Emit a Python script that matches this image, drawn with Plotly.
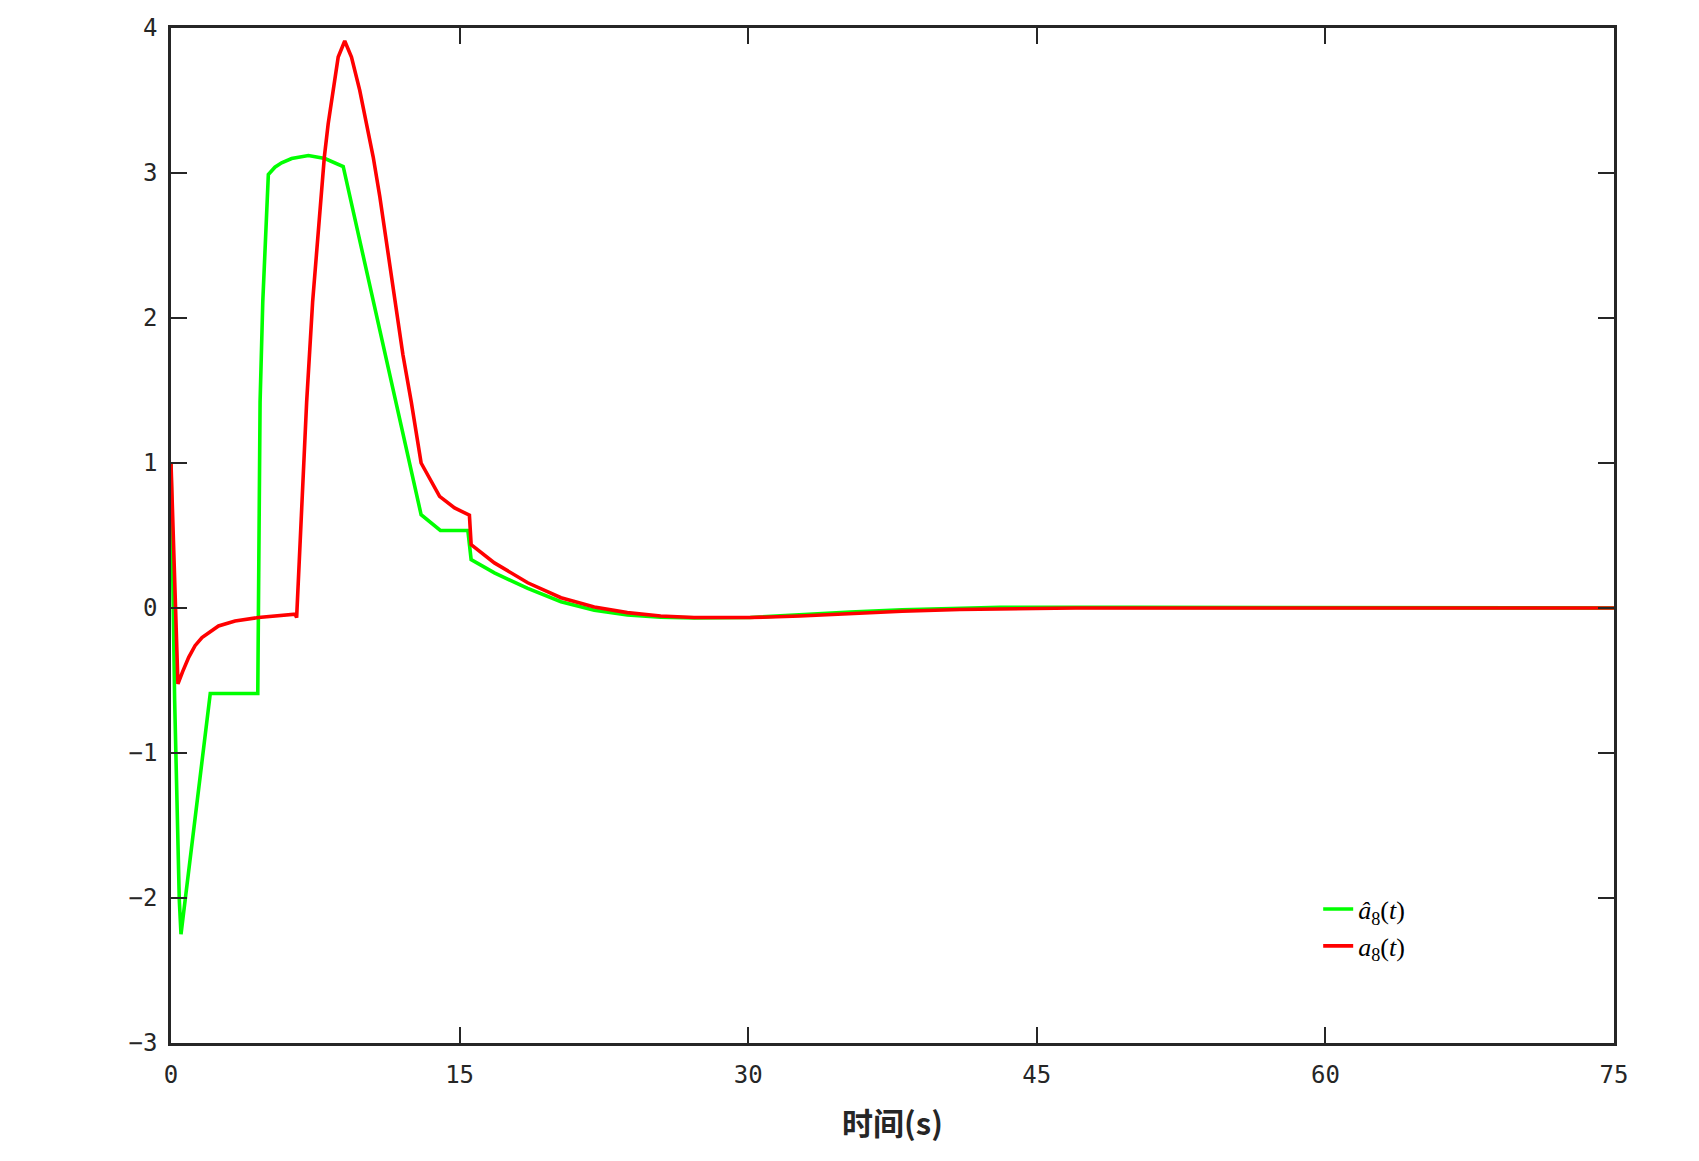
import plotly.graph_objects as go

# estimated a8 hat (green) and a8 (red)
t_hat = [0, 0.19, 0.43, 0.52, 2.04, 4.51, 4.63, 4.77, 5.06, 5.4, 5.75, 6.27,
         7.14, 8.0, 8.95, 13.0, 14.0, 15.43, 15.6, 16.81, 18.54, 20.27,
         22.0, 23.72, 25.45, 27.2, 30.1, 32.7, 35.3, 38.0, 41.0, 43.1, 50.0,
         60.0, 75.0]
a_hat = [1.0, -0.64, -2.01, -2.25, -0.59, -0.59, 1.42, 2.11, 2.99, 3.04, 3.07,
         3.10, 3.12, 3.10, 3.045, 0.643, 0.535, 0.535, 0.334, 0.242, 0.135,
         0.043, -0.016, -0.048, -0.064, -0.068, -0.066, -0.045, -0.028,
         -0.012, 0.0, 0.005, 0.004, 0.002, 0.0]

t_true = [0, 0.36, 0.6, 0.92, 1.25, 1.61, 2.47, 3.33, 4.54, 6.45, 6.53, 6.79,
          7.05, 7.36, 7.79, 7.97, 8.17, 8.43, 8.69, 9.03, 9.38, 9.81, 10.16,
          10.51, 10.85, 11.25, 11.63, 12.05, 12.49, 13.0, 13.96, 14.74,
          15.51, 15.6, 16.81, 18.54, 20.27, 22.0, 23.72, 25.45, 27.18, 30.1,
          32.7, 35.3, 38.0, 41.0, 44.0, 47.0, 60.0, 75.0]
a_true = [1.0, -0.524, -0.44, -0.34, -0.26, -0.204, -0.124, -0.089, -0.066,
          -0.043, -0.066, 0.734, 1.42, 2.11, 2.84, 3.11, 3.34, 3.57, 3.80, 3.91,
          3.80, 3.57, 3.34, 3.11, 2.84, 2.48, 2.11, 1.75, 1.42, 1.0, 0.77,
          0.69, 0.64, 0.437, 0.311, 0.174, 0.071, 0.007, -0.032, -0.055,
          -0.066, -0.066, -0.055, -0.038, -0.022, -0.01, -0.003, 0.0, 0.0, 0.0]

x_ticks = [0, 15, 30, 45, 60, 75]
y_ticks = [-3, -2, -1, 0, 1, 2, 3, 4]

axis_color = "#262626"
tick_font = dict(family="DejaVu Sans Mono", size=24, color=axis_color)

fig = go.Figure()
fig.add_trace(go.Scatter(
    x=t_hat, y=a_hat, mode="lines",
    line=dict(color="#00ff00", width=3.6),
    name="<i>â</i><sub>8</sub>(<i>t</i>)",
))
fig.add_trace(go.Scatter(
    x=t_true, y=a_true, mode="lines",
    line=dict(color="#ff0000", width=3.6),
    name="<i>a</i><sub>8</sub>(<i>t</i>)",
))

fig.update_layout(
    width=1699,
    height=1161,
    margin=dict(l=163, r=93, t=20, b=126),
    paper_bgcolor="white",
    plot_bgcolor="white",
    showlegend=True,
    legend=dict(
        x=0.795, y=0.155, xanchor="left", yanchor="top",
        bgcolor="rgba(0,0,0,0)",
        font=dict(family="Liberation Serif", size=26, color="black"),
    ),
)

fig.update_xaxes(
    range=[0, 75],
    tickvals=x_ticks,
    ticks="inside", ticklen=16, tickwidth=2, tickcolor=axis_color,
    showline=True, linecolor=axis_color, linewidth=2.5, mirror="ticks",
    showgrid=False, zeroline=False,
    tickfont=tick_font,
    ticklabelstandoff=8,
    title=dict(
        text="<b>时间(s)</b>",
        font=dict(family="Noto Sans CJK SC", size=31, color=axis_color),
        standoff=26,
    ),
    automargin=False,
)
fig.update_yaxes(
    range=[-3, 4],
    tickvals=y_ticks,
    ticks="inside", ticklen=16, tickwidth=2, tickcolor=axis_color,
    showline=True, linecolor=axis_color, linewidth=2.5, mirror="ticks",
    showgrid=False, zeroline=False,
    tickfont=tick_font,
    ticklabelstandoff=6,
    automargin=False,
)

fig.write_html("out.html")
